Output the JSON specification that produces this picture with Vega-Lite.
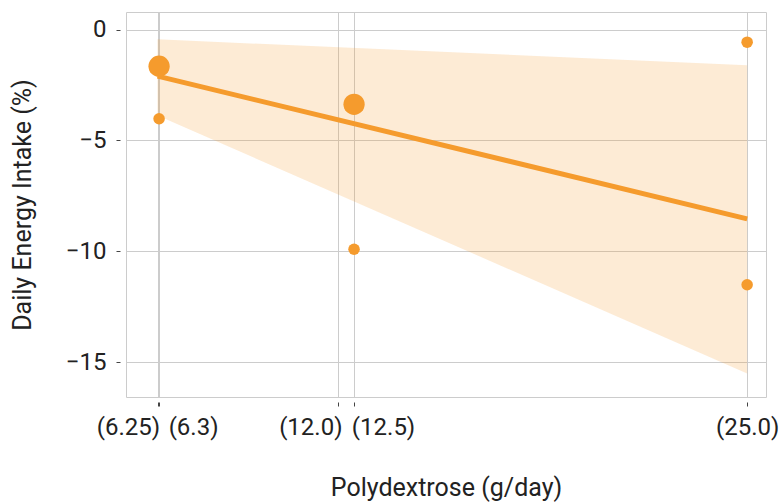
{
  "$schema": "https://vega.github.io/schema/vega-lite/v6.json",
  "autosize": "none",
  "width": 640,
  "height": 385,
  "padding": {"left": 126, "top": 12, "right": 14, "bottom": 105},
  "background": "white",
  "config": {
    "view": {"stroke": "#cccccc", "strokeWidth": 1},
    "font": "Roboto",
    "axis": {
      "labelFont": "Roboto",
      "titleFont": "Roboto",
      "labelFontSize": 24,
      "titleFontSize": 25,
      "labelColor": "#222222",
      "titleColor": "#222222",
      "titleFontWeight": "normal",
      "gridColor": "#cccccc",
      "gridWidth": 1,
      "domain": false,
      "tickColor": "#444444",
      "tickSize": 4,
      "tickWidth": 1
    }
  },
  "datasets": {
    "band": [
      {"dose": 6.25, "lower": -3.87, "upper": -0.44},
      {"dose": 25.0, "lower": -15.5, "upper": -1.61}
    ],
    "fit": [
      {"dose": 6.25, "change": -2.1},
      {"dose": 25.0, "change": -8.53}
    ],
    "studies": [
      {"dose": 6.3, "change": -1.65, "weight": 2},
      {"dose": 6.3, "change": -4.02, "weight": 1},
      {"dose": 12.5, "change": -3.37, "weight": 2},
      {"dose": 12.5, "change": -9.9, "weight": 1},
      {"dose": 25.0, "change": -0.57, "weight": 1},
      {"dose": 25.0, "change": -11.5, "weight": 1}
    ]
  },
  "encoding": {
    "x": {
      "field": "dose",
      "type": "quantitative",
      "scale": {"domain": [5.248, 25.6], "nice": false, "zero": false},
      "axis": {
        "title": "Polydextrose (g/day)",
        "values": [6.25, 6.3, 12.0, 12.5, 25.0],
        "labelExpr": "'(' + (datum.value == 6.3 ? '6.3' : datum.value == 6.25 ? '6.25' : format(datum.value, '.1f')) + ')'",
        "labelOverlap": false,
        "labelFlush": false,
        "labelBound": false,
        "offset": 5,
        "labelPadding": 9,
        "titlePadding": 36,
        "labelOffset": {
          "condition": [
            {"test": "datum.value == 6.25", "value": -29.5},
            {"test": "datum.value == 6.3", "value": 34},
            {"test": "datum.value == 12", "value": -28},
            {"test": "datum.value == 12.5", "value": 29}
          ],
          "value": 0
        }
      }
    }
  },
  "layer": [
    {
      "data": {"name": "band"},
      "mark": {"type": "area", "color": "#F59B2D", "opacity": 0.2},
      "encoding": {
        "y": {"field": "upper", "type": "quantitative"},
        "y2": {"field": "lower"}
      }
    },
    {
      "data": {"name": "fit"},
      "mark": {"type": "line", "color": "#F59B2D", "strokeWidth": 5},
      "encoding": {
        "y": {"field": "change", "type": "quantitative"}
      }
    },
    {
      "data": {"name": "studies"},
      "mark": {"type": "circle", "color": "#F59B2D", "opacity": 1},
      "encoding": {
        "y": {
          "field": "change",
          "type": "quantitative",
          "scale": {"domain": [-16.56, 0.79], "nice": false, "zero": false},
          "axis": {
            "title": "Daily Energy Intake (%)",
            "values": [0, -5, -10, -15],
            "offset": 6,
            "labelPadding": 10,
            "titlePadding": 30
          }
        },
        "size": {
          "field": "weight",
          "type": "quantitative",
          "scale": {"domain": [1, 2], "range": [133, 452]},
          "legend": null
        }
      }
    }
  ],
  "resolve": {"scale": {"y": "shared"}}
}
